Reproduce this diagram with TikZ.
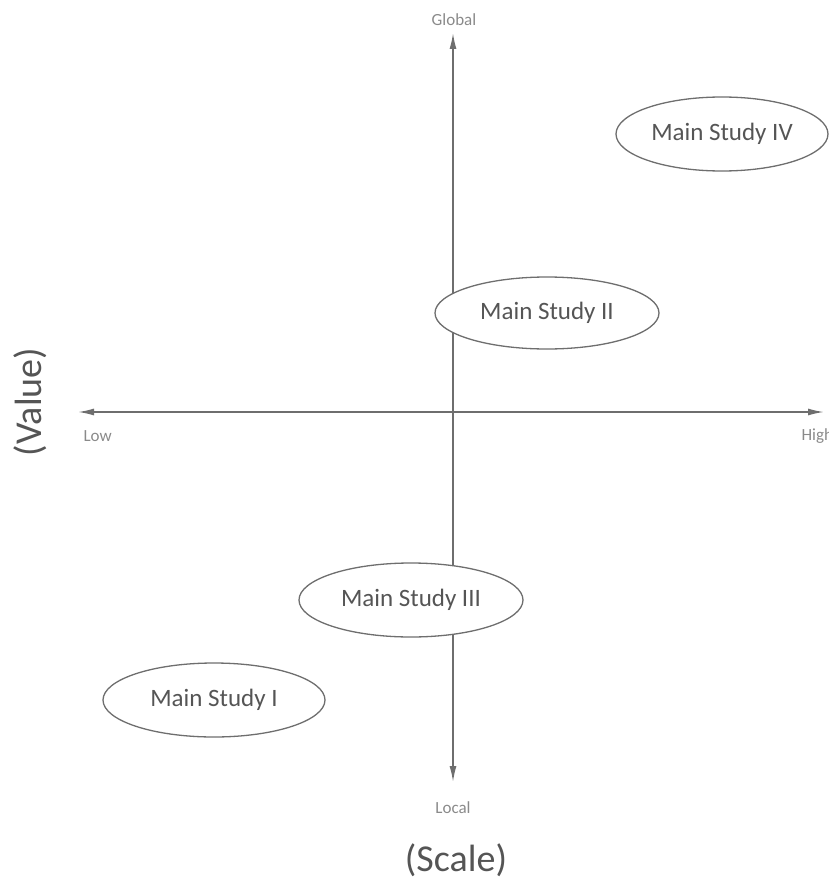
\documentclass[tikz,border=0pt]{standalone}
\usepackage{fontspec}
\setmainfont{Carlito}
\usetikzlibrary{shapes.geometric,arrows.meta}
\definecolor{axisgray}{HTML}{6E6E6E}
\definecolor{textgray}{HTML}{555555}
\definecolor{labelgray}{HTML}{8A8A8A}
\begin{document}
\begin{tikzpicture}[x=1pt,y=-1pt,
  axisline/.style={draw=axisgray,line width=1.6pt,
    {Latex[length=16pt,width=7pt]}-{Latex[length=16pt,width=7pt]}},
  study/.style={ellipse,draw=axisgray,line width=1.3pt,fill=white,
    inner sep=0pt,text=textgray,font=\fontsize{25}{28}\selectfont},
  endlabel/.style={text=labelgray,font=\fontsize{17}{20}\selectfont},
  axistitle/.style={text=textgray,font=\fontsize{38}{42}\selectfont}]
\useasboundingbox (0,0) rectangle (829,888);
% axes
\coordinate (top) at (453,33);
\coordinate (bottom) at (453,782);
\coordinate (left) at (78,412);
\coordinate (right) at (824,412);
\draw[axisline] (bottom) -- (top);
\draw[axisline] (left) -- (right);
% axis end labels
\node[endlabel] (global) at (454,20) {Global};
\node[endlabel] (local) at (453,808) {Local};
\node[endlabel,anchor=west] (low) at (80,436) {Low};
\node[endlabel,anchor=west] (high) at (798,436) {High};
% axis titles
\node[axistitle] (scale) at (456,860) {(Scale)};
\node[axistitle,rotate=90] (value) at (30,402) {(Value)};
% studies
\node[study,minimum width=212pt,minimum height=74pt] (s4) at (722,134) {Main Study IV};
\node[study,minimum width=224pt,minimum height=72pt] (s2) at (547,313) {Main Study II};
\node[study,minimum width=224pt,minimum height=74pt] (s3) at (411,600) {Main Study III};
\node[study,minimum width=222pt,minimum height=74pt] (s1) at (214,700) {Main Study I};
\end{tikzpicture}
\end{document}
